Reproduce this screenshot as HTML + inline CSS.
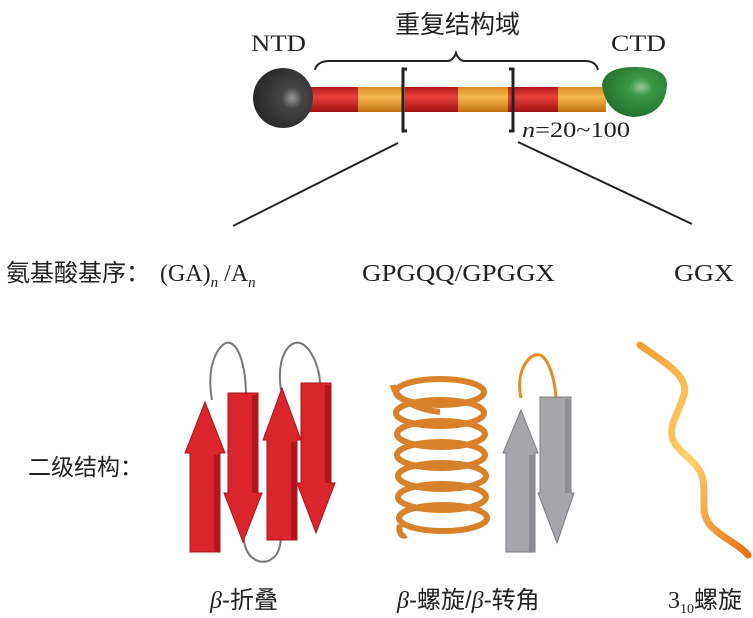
<!DOCTYPE html>
<html><head><meta charset="utf-8"><style>
html,body{margin:0;padding:0;background:#fff;}
svg{display:block;}
.s{font-family:"Liberation Serif","Noto Serif CJK SC",serif;fill:#222;}
.c{font-family:"Liberation Sans","Noto Sans CJK SC",sans-serif;fill:#222;}
</style></head><body>
<svg width="753" height="618" viewBox="0 0 753 618" xmlns="http://www.w3.org/2000/svg">
<defs>
<radialGradient id="gb" cx="0.65" cy="0.5" r="0.6"><stop offset="0" stop-color="#999"/><stop offset="0.3" stop-color="#444"/><stop offset="1" stop-color="#2a2a2a"/></radialGradient>
<radialGradient id="gg" cx="0.6" cy="0.4" r="0.7"><stop offset="0" stop-color="#9c9"/><stop offset="0.25" stop-color="#3a9a45"/><stop offset="1" stop-color="#1d6a28"/></radialGradient>
<linearGradient id="red" x1="0" y1="0" x2="0" y2="1"><stop offset="0" stop-color="#b01818"/><stop offset="0.4" stop-color="#e8403a"/><stop offset="1" stop-color="#a01010"/></linearGradient>
<linearGradient id="org" x1="0" y1="0" x2="0" y2="1"><stop offset="0" stop-color="#d88a20"/><stop offset="0.4" stop-color="#f8b850"/><stop offset="1" stop-color="#c07010"/></linearGradient>
<linearGradient id="wv" x1="0" y1="0" x2="1" y2="1"><stop offset="0" stop-color="#f0a030"/><stop offset="0.5" stop-color="#ffd070"/><stop offset="1" stop-color="#e87010"/></linearGradient>
</defs>

<!-- top -->
<text class="c" x="395" y="33" font-size="25">重复结构域</text>
<text class="s" x="251" y="51" font-size="23" textLength="55" lengthAdjust="spacingAndGlyphs">NTD</text>
<text class="s" x="611" y="51" font-size="23" textLength="55" lengthAdjust="spacingAndGlyphs">CTD</text>
<path d="M315,70 Q317,61 330,61 L447,61 Q453,61 456,53 Q459,61 465,61 L585,61 Q596,61 598,70" fill="none" stroke="#222" stroke-width="2"/>

<rect x="306" y="87" width="52" height="25" fill="url(#red)"/>
<rect x="358" y="87" width="47" height="25" fill="url(#org)"/>
<rect x="405" y="87" width="53" height="25" fill="url(#red)"/>
<rect x="458" y="87" width="50" height="25" fill="url(#org)"/>
<rect x="508" y="87" width="50" height="25" fill="url(#red)"/>
<rect x="558" y="87" width="48" height="25" fill="url(#org)"/>
<circle cx="283" cy="98" r="30" fill="url(#gb)"/>
<path d="M602,85 Q604,67 635,67 Q667,67 667,85 Q665,115 634,117 Q606,115 602,85Z" fill="url(#gg)"/>

<path d="M407,69 L403,69 L403,131 L407,131" fill="none" stroke="#222" stroke-width="3"/>
<path d="M509,69 L513,69 L513,131 L509,131" fill="none" stroke="#222" stroke-width="3"/>
<text class="s" x="522" y="137" font-size="22" textLength="108" lengthAdjust="spacingAndGlyphs"><tspan font-style="italic">n</tspan>=20~100</text>
<line x1="398" y1="143" x2="233" y2="226" stroke="#222" stroke-width="2"/>
<line x1="518" y1="142" x2="692" y2="224" stroke="#222" stroke-width="2"/>

<!-- row 2 -->
<text class="c" x="6" y="281" font-size="24">氨基酸基序：</text>
<text class="s" x="160" y="281" font-size="24">(GA)<tspan font-size="15" font-style="italic" dy="6">n</tspan><tspan dy="-6"> /A</tspan><tspan font-size="15" font-style="italic" dy="6">n</tspan></text>
<text class="s" x="362" y="281" font-size="24" textLength="193" lengthAdjust="spacingAndGlyphs">GPGQQ/GPGGX</text>
<text class="s" x="674" y="281" font-size="24" textLength="60" lengthAdjust="spacingAndGlyphs">GGX</text>

<!-- secondary -->
<text class="c" x="28" y="475" font-size="23">二级结构：</text>

<!-- loops -->
<g fill="none" stroke="#777" stroke-width="2">
<path d="M212,400 C205,360 222,340 230,343 C240,346 246,370 246,396"/>
<path d="M281,390 C276,355 290,340 300,343 C312,347 320,370 320,384"/>
<path d="M244,540 C246,560 262,565 270,560 C278,556 280,548 281,538"/>
</g>
<!-- red arrows -->
<g fill="#d9252b" stroke="#a81418" stroke-width="1">
<polygon points="205,402 225,453 220,453 220,552 190,552 190,453 185,453"/>
<polygon points="228,393 258,393 258,493 262,493 243,542 224,493 228,493"/>
<polygon points="282,388 301,440 297,440 297,540 267,540 267,440 263,440"/>
<polygon points="301,383 331,383 331,483 335,483 316,533 297,483 301,483"/>
</g>
<g fill="#b0161c">
<rect x="214" y="455" width="6" height="97"/>
<rect x="252" y="395" width="6" height="98"/>
<rect x="291" y="442" width="6" height="98"/>
<rect x="325" y="385" width="6" height="98"/>
</g>

<!-- coil -->
<g fill="none" stroke="#d8802a" stroke-width="6">
<path d="M393,385 C395,400 420,410 440,412"/>
<ellipse cx="440" cy="392" rx="44" ry="13"/>
<ellipse cx="440" cy="413" rx="44" ry="13"/>
<ellipse cx="441" cy="434" rx="44" ry="13"/>
<ellipse cx="441" cy="455" rx="44" ry="13"/>
<ellipse cx="442" cy="476" rx="44" ry="13"/>
<ellipse cx="442" cy="497" rx="44" ry="13"/>
<ellipse cx="443" cy="518" rx="44" ry="13"/>
<path d="M400,525 C398,532 402,538 406,535"/>
</g>

<!-- gray arrows -->
<path d="M521,398 C515,370 530,352 540,355 C548,358 555,378 556,398" fill="none" stroke="#e88a20" stroke-width="3"/>
<g fill="#a5a5aa" stroke="#7a7a80" stroke-width="1">
<polygon points="521,410 538,453 535,453 535,552 506,552 506,453 503,453"/>
<polygon points="540,397 571,397 571,493 574,493 557,543 538,493 540,493"/>
</g>
<rect x="529" y="455" width="6" height="97" fill="#8c8c92"/>
<rect x="565" y="399" width="6" height="94" fill="#8c8c92"/>

<!-- wave -->
<path d="M640,345 C660,360 690,375 684,395 C678,415 668,425 673,440 C680,455 700,462 703,480 C706,500 700,512 710,525 C722,538 740,545 748,555" fill="none" stroke="url(#wv)" stroke-width="7" stroke-linecap="round"/>

<!-- bottom labels -->
<text class="c" x="210" y="608" font-size="24"><tspan class="s" font-style="italic">β</tspan>-折叠</text>
<text class="c" x="397" y="608" font-size="24"><tspan class="s" font-style="italic">β</tspan>-螺旋/<tspan class="s" font-style="italic">β</tspan>-转角</text>
<text class="c" x="668" y="608" font-size="24"><tspan class="s">3</tspan><tspan class="s" font-size="14" dy="5">10</tspan><tspan dy="-5">螺旋</tspan></text>
</svg>
</body></html>
